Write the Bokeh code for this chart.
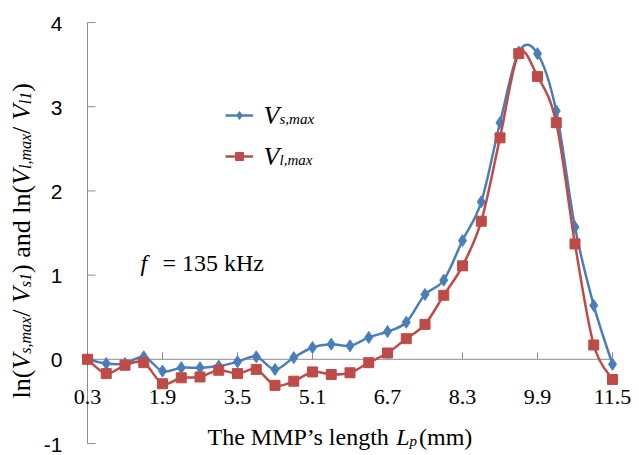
import numpy as np
from bokeh.plotting import figure
from bokeh.models import Range1d, Label, Legend, LegendItem
from bokeh.embed import file_html
from bokeh.resources import INLINE
from bokeh.core.properties import value

# ---------------- data ----------------
lengths = [0.3, 0.7, 1.1, 1.5, 1.9, 2.3, 2.7, 3.1, 3.5, 3.9, 4.3, 4.7, 5.1, 5.5, 5.9,
           6.3, 6.7, 7.1, 7.5, 7.9, 8.3, 8.7, 9.1, 9.5, 9.9, 10.3, 10.7, 11.1, 11.5]
vs_max = [0.00, -0.05, -0.05, 0.03, -0.14, -0.10, -0.10, -0.08, -0.03, 0.03, -0.12, 0.02,
          0.14, 0.18, 0.16, 0.26, 0.33, 0.44, 0.77, 0.94, 1.41, 1.87, 2.81, 3.65, 3.63,
          2.95, 1.57, 0.64, -0.06]
vl_max = [0.00, -0.17, -0.07, -0.04, -0.29, -0.22, -0.21, -0.13, -0.17, -0.12, -0.31, -0.26,
          -0.15, -0.18, -0.16, -0.04, 0.075, 0.245, 0.415, 0.76, 1.11, 1.64, 2.63, 3.63, 3.36,
          2.81, 1.37, 0.17, -0.24]
x_ticks = [0.3, 1.9, 3.5, 5.1, 6.7, 8.3, 9.9, 11.5]
x_tick_labels = ["0.3", "1.9", "3.5", "5.1", "6.7", "8.3", "9.9", "11.5"]
y_ticks = [-1, 0, 1, 2, 3, 4]
y_tick_labels = ["-1", "0", "1", "2", "3", "4"]

BLUE = "#4a7ebb"
RED = "#be4b48"
GRAY = "#8c8c8c"
SERIF = "Liberation Serif"
W, H = 639, 455

p = figure(width=W, height=H, x_range=Range1d(-1.556, 12.076), y_range=Range1d(-1.1425, 4.2613),
           x_axis_location=None, y_axis_location=None, output_backend="svg",
           toolbar_location=None, min_border=0)
p.grid.visible = False
p.outline_line_color = None
p.background_fill_color = "white"

x0, x1 = x_ticks[0], x_ticks[-1]
y0, y1 = y_ticks[0], y_ticks[-1]

# y axis (at x = 0.3)
p.segment(x0=[x0], y0=[y0], x1=[x0], y1=[y1], line_color=GRAY, line_width=1)
p.ray(x=[x0] * len(y_ticks), y=y_ticks, length=8, length_units="screen", angle=0,
      line_color=GRAY, line_width=1)
p.text(x=[x0] * len(y_ticks), y=y_ticks, text=y_tick_labels, x_offset=-25, y_offset=1,
       text_font=value("Liberation Sans"), text_font_size="21px", text_align="right",
       text_baseline="alphabetic", text_color="black")

# x axis (at y = 0)
p.segment(x0=[x0], y0=[0], x1=[x1], y1=[0], line_color=GRAY, line_width=1)
p.ray(x=x_ticks, y=[0] * len(x_ticks), length=7, length_units="screen", angle=np.pi / 2,
      line_color=GRAY, line_width=1)
p.text(x=x_ticks, y=[0] * len(x_ticks), text=x_tick_labels, y_offset=38,
       text_font=value(SERIF), text_font_size="22px", text_align="center",
       text_baseline="alphabetic", text_color="black")


# smoothed (Excel-like) curve through the data points
def smooth(xs, ys):
    x = np.concatenate([[xs[0]], xs, [xs[-1]]]).astype(float)
    y = np.concatenate([[ys[0]], ys, [ys[-1]]]).astype(float)
    i = np.arange(len(xs) - 1)
    p0x, p1x, p2x, p3x = x[i], x[i + 1], x[i + 2], x[i + 3]
    p0y, p1y, p2y, p3y = y[i], y[i + 1], y[i + 2], y[i + 3]
    return dict(x0=p1x, y0=p1y, x1=p2x, y1=p2y,
                cx0=p1x + (p2x - p0x) / 6, cy0=p1y + (p2y - p0y) / 6,
                cx1=p2x - (p3x - p1x) / 6, cy1=p2y - (p3y - p1y) / 6)


b_line = p.bezier(**smooth(lengths, vs_max), line_color=BLUE, line_width=2.5)
b_pts = p.scatter(lengths, vs_max, marker="diamond", size=12, fill_color=BLUE, line_color=BLUE)
r_line = p.bezier(**smooth(lengths, vl_max), line_color=RED, line_width=2.5)
r_pts = p.scatter(lengths, vl_max, marker="square", size=10, fill_color=RED, line_color=RED)

legend = Legend(items=[LegendItem(label=value(" "), renderers=[b_line, b_pts]),
                       LegendItem(label=value(" "), renderers=[r_line, r_pts])],
                location=(225, 289), glyph_width=28, glyph_height=20, label_height=20,
                spacing=21, padding=0, margin=0, border_line_color=None,
                background_fill_alpha=0, label_text_font_size="10px")
p.add_layout(legend)

# ---------------- text helpers (Times metrics, per 1000 em) ----------------
REG = {" ": 250, "(": 333, ")": 333, "/": 278, "l": 278, "n": 500, "a": 444, "d": 500, ",": 250,
       "m": 778, "x": 500, "s": 389, "1": 500, "T": 611, "h": 500, "e": 444, "M": 889,
       "P": 556, "\u2019": 333, "g": 500, "t": 278}
ITA = {"V": 611, "s": 389, ",": 250, "m": 722, "a": 500, "x": 444, "l": 278, "1": 500,
       "L": 556, "p": 500, "f": 278}


def width(t, size, italic):
    tab = ITA if italic else REG
    return sum(tab.get(c, 500) for c in t) * size / 1000.0


DY = -7  # empirical baseline correction


def lab(t, sx, sy, size, italic=False, angle=0.0):
    if angle == 0.0:
        sy = sy + DY
    else:
        sx = sx + DY
    p.add_layout(Label(x=sx, y=H - sy, x_units="screen", y_units="screen", text=t,
                       text_font=SERIF, text_font_size=f"{size}px",
                       text_font_style="italic" if italic else "normal",
                       angle=angle, text_align="left", text_baseline="alphabetic",
                       text_color="black"))


# y axis title (rotated, with subscripts)
MAIN, SUB = 26, 16
pieces = [("ln(", False, False), ("V", True, False), ("s,max", True, True), ("/ ", False, False),
          ("V", True, False), ("s1", True, True), (") and ln(", False, False),
          ("V", True, False), ("l,max", True, True), ("/ ", False, False),
          ("V", True, False), ("l1", True, True), (")", False, False)]
pos = 398.0
for t, it, sub in pieces:
    size = SUB if sub else MAIN
    lab(t, 28 + (4 if sub else 0), pos, size, it, angle=np.pi / 2)
    pos -= width(t, size, it)

# legend texts
lab("V", 263, 122, 26, True)
lab("s,max", 279, 125, 15, True)
lab("V", 263, 163, 26, True)
lab("l,max", 279, 166, 15, True)

# annotation
lab("f", 140, 269, 24, True)
lab("= 135 kHz", 162, 269, 24)

# x axis title
xs_ = 207.0
for t, it, size, dy, gap in [("The MMP\u2019s length ", False, 24, 0, 0), ("L", True, 24, 0, 0),
                             ("p", True, 15, 4, 0), (" (mm)", False, 24, 0, 2)]:
    xs_ += gap
    lab(t, xs_, 443 + dy, size, it)
    xs_ += width(t, size, it)

open("out.html", "w").write(file_html(p, INLINE))
